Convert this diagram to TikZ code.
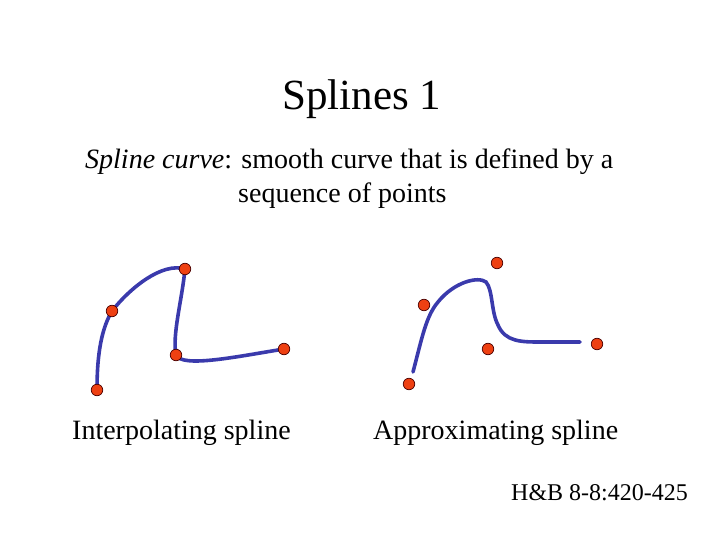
\documentclass[tikz,border=0pt]{standalone}
\usepackage{fontspec}
\setmainfont{Liberation Serif}
\definecolor{curveblue}{RGB}{58,58,172}
\definecolor{dotred}{RGB}{238,64,18}
\begin{document}
\begin{tikzpicture}[x=1pt,y=-1pt,
  spl/.style={draw=curveblue,line width=3.6pt,line cap=round},
  ctrl/.style={circle,fill=dotred,draw=black!70!red,line width=0.7pt,minimum size=11.5pt,inner sep=0pt},
  txt/.style={inner sep=0pt,anchor=base west}]
\useasboundingbox (0,0) rectangle (720,540);
\node[inner sep=0pt,anchor=base] (title) at (362,110) {\fontsize{43}{48}\selectfont Splines 1};
\node[txt] (l1) at (85,169) {\fontsize{28}{32}\selectfont\textit{Spline curve}: smooth curve that is defined by a};
\node[txt] (l2) at (238,203) {\fontsize{28}{32}\selectfont sequence of points};
\node[txt] (lab1) at (72,439) {\fontsize{28}{32}\selectfont Interpolating spline};
\node[txt] (lab2) at (373,439) {\fontsize{28}{32}\selectfont Approximating spline};
\node[txt] (ref) at (511,500) {\fontsize{24}{28}\selectfont H\&B 8-8:420-425};
% interpolating
\coordinate (a1) at (97,390);
\coordinate (a2) at (112,311);
\coordinate (a3) at (185,269);
\coordinate (a4) at (176,355);
\coordinate (a5) at (284,349);
\draw[spl] (a1) .. controls (97,352) and (102,328) .. (a2)
  .. controls (130,288) and (162,262) .. (a3)
  .. controls (182,300) and (172,335) .. (a4)
  .. controls (182,368) and (235,357) .. (a5);
\foreach \p in {a1,a2,a3,a4,a5} \node[ctrl] at (\p) {};
% approximating
\coordinate (b1) at (409,384);
\coordinate (b2) at (424,305);
\coordinate (b3) at (497,263);
\coordinate (b4) at (488,349);
\coordinate (b5) at (597,344);
\coordinate (s0) at (413,372);
\coordinate (s1) at (438,302);
\coordinate (s2) at (486,282);
\coordinate (s3) at (498,325);
\coordinate (s4) at (540,342);
\coordinate (s5) at (580,342);
\draw[spl] (s0) .. controls (422,338) and (426,316) .. (s1)
  .. controls (454,282) and (478,276) .. (s2)
  .. controls (493,290) and (491,312) .. (s3)
  .. controls (505,342) and (522,342) .. (s4) -- (s5);
\foreach \p in {b1,b2,b3,b4,b5} \node[ctrl] at (\p) {};
\end{tikzpicture}
\end{document}
